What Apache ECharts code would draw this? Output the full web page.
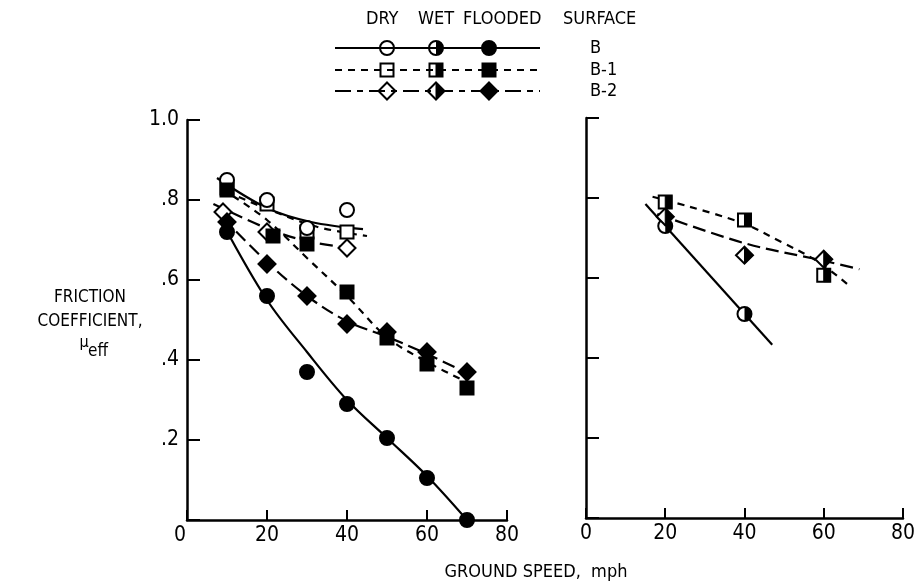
<!DOCTYPE html>
<html>
<head>
<meta charset="utf-8">
<script src="https://cdn.jsdelivr.net/npm/echarts@6/dist/echarts.min.js"></script>
<style>
  html, body { margin: 0; padding: 0; background: #fff; }
  #chart { width: 918px; height: 585px; }
</style>
</head>
<body>
<div id="chart"></div>
<script>
const FONT = 'Liberation Sans Narrow, DejaVu Sans Condensed, DejaVu Sans, sans-serif';

// Axis ticks
const xTicks = [0, 20, 40, 60, 80];
const yTickValues = [0, 0.2, 0.4, 0.6, 0.8, 1.0];
const yTickLabels = ['0', '.2', '.4', '.6', '.8', '1.0'];

// Left panel: measured points [ground speed mph, friction coefficient]
const dryB    = [[10, 0.85], [20, 0.80], [30, 0.73], [40, 0.775]];
const dryB1   = [[10, 0.83], [20, 0.79], [30, 0.72], [40, 0.72]];
const dryB2   = [[9, 0.77], [20, 0.72], [40, 0.68]];
const floodB  = [[10, 0.72], [20, 0.56], [30, 0.37], [40, 0.29], [50, 0.205], [60, 0.105], [70, 0.0]];
const floodB1 = [[10, 0.825], [21.5, 0.71], [30, 0.69], [40, 0.57], [50, 0.455], [60, 0.39], [70, 0.33]];
const floodB2 = [[10, 0.745], [20, 0.64], [30, 0.56], [40, 0.49], [50, 0.47], [60, 0.42], [70, 0.37]];

// Left panel: faired curves
const fairDryB    = [[7.5, 0.855], [20, 0.78], [31, 0.745], [44, 0.727]];
const fairDryB1   = [[10, 0.82], [20.8, 0.775], [32.5, 0.733], [45, 0.71]];
const fairDryB2   = [[6.6, 0.79], [21, 0.725], [31, 0.695], [41, 0.68]];
const fairFloodB  = [[9, 0.74], [20, 0.55], [30, 0.42], [40, 0.30], [50, 0.205], [60, 0.11], [70, 0.0]];
const fairFloodB1 = [[11.5, 0.81], [20, 0.75], [30, 0.655], [40, 0.56], [50, 0.457], [60, 0.395], [71, 0.34]];
const fairFloodB2 = [[9, 0.755], [20, 0.645], [30, 0.56], [40, 0.497], [50, 0.458], [60, 0.415], [71, 0.362]];

// Right panel: wet surface points and faired lines
const wetB  = [[20, 0.73], [40, 0.51]];
const wetB1 = [[20, 0.79], [40, 0.745], [60, 0.607]];
const wetB2 = [[20, 0.753], [40, 0.657], [60, 0.647]];
const fairWetB  = [[15, 0.785], [47, 0.433]];
const fairWetB1 = [[16.8, 0.803], [38.5, 0.741], [49.3, 0.69], [58.5, 0.641], [66.8, 0.578]];
const fairWetB2 = [[18, 0.76], [40, 0.687], [60, 0.643], [69, 0.622]];

const DASH_B1 = [7, 6];
const DASH_B2 = [13, 6];
const LINE_W = 2.2;

// Builds a plotting symbol (open, half or solid) centred on cx, cy
function marker(cx, cy, shape, fill) {
  const black = '#000', white = '#fff';
  const base = { fill: fill === 'full' ? black : white, stroke: black, lineWidth: 2 };
  const kids = [];
  if (shape === 'circle') {
    const r = 7;
    kids.push({ type: 'circle', shape: { cx, cy, r }, style: base });
    if (fill === 'half') {
      kids.push({ type: 'sector', shape: { cx, cy, r: r, r0: 0, startAngle: -Math.PI / 2, endAngle: Math.PI / 2, clockwise: true }, style: { fill: black } });
    }
  } else if (shape === 'square') {
    const h = 6.5;
    kids.push({ type: 'rect', shape: { x: cx - h, y: cy - h, width: 2 * h, height: 2 * h }, style: base });
    if (fill === 'half') {
      kids.push({ type: 'rect', shape: { x: cx, y: cy - h, width: h, height: 2 * h }, style: { fill: black, stroke: black, lineWidth: 1 } });
    }
  } else {
    const h = 8.5;
    kids.push({ type: 'polygon', shape: { points: [[cx, cy - h], [cx + h, cy], [cx, cy + h], [cx - h, cy]] }, style: base });
    if (fill === 'half') {
      kids.push({ type: 'polygon', shape: { points: [[cx, cy - h], [cx + h, cy], [cx, cy + h]] }, style: { fill: black, stroke: black, lineWidth: 1 } });
    }
  }
  return { type: 'group', children: kids };
}

function pointSeries(data, shape, fill, panel) {
  return {
    type: 'custom',
    xAxisIndex: panel, yAxisIndex: panel,
    data: data,
    encode: { x: 0, y: 1 },
    z: 5,
    silent: true,
    renderItem: function (params, api) {
      const p = api.coord([api.value(0), api.value(1)]);
      return marker(p[0], p[1], shape, fill);
    }
  };
}

function curveSeries(data, dash, panel, smooth) {
  return {
    type: 'line',
    xAxisIndex: panel, yAxisIndex: panel,
    data: data,
    smooth: smooth,
    symbol: 'none',
    z: 2,
    silent: true,
    lineStyle: { color: '#000', width: LINE_W, type: dash }
  };
}

const axisLineStyle = { show: true, lineStyle: { color: '#000', width: 2.5 } };

function xAxisFor(panel, labelZeroShift) {
  return {
    gridIndex: panel, type: 'value', min: 0, max: 80, interval: 20,
    axisLine: axisLineStyle,
    axisTick: { show: true, inside: true, length: 10, lineStyle: { color: '#000', width: 2 } },
    splitLine: { show: false },
    axisLabel: {
      color: '#000', fontFamily: FONT, fontSize: 21, margin: 5,
      formatter: function (v) {
        const i = xTicks.indexOf(v);
        const t = i >= 0 ? String(xTicks[i]) : '';
        return (labelZeroShift && v === 0) ? '{z|' + t + '}' : t;
      },
      rich: { z: { fontFamily: FONT, fontSize: 21, color: '#000', padding: [0, 14, 0, 0] } }
    }
  };
}

function yAxisFor(panel, showLabels) {
  return {
    gridIndex: panel, type: 'value', min: 0, max: 1.0, interval: 0.2,
    axisLine: axisLineStyle,
    axisTick: { show: true, inside: true, length: 13, lineStyle: { color: '#000', width: 2 } },
    splitLine: { show: false },
    axisLabel: {
      show: showLabels, color: '#000', fontFamily: FONT, fontSize: 21, margin: 8,
      formatter: function (v) {
        const i = Math.round(v * 5);
        return i === 0 ? '' : yTickLabels[i];
      }
    }
  };
}

function txt(x, y, text, size, align) {
  return {
    type: 'text', x: x, y: y, z: 10,
    style: { text: text, fontFamily: FONT, fontSize: size, fill: '#000', align: align || 'left', verticalAlign: 'middle' }
  };
}

// Legend block drawn above the panels
const legendRows = [
  { label: 'B',   shape: 'circle',  dash: null, y: 48 },
  { label: 'B-1', shape: 'square',  dash: DASH_B1, y: 70 },
  { label: 'B-2', shape: 'diamond', dash: [16, 6, 6, 6], y: 91 }
];
const legendCols = [{ fill: 'open', x: 387 }, { fill: 'half', x: 436 }, { fill: 'full', x: 489 }];
const legendHeads = [['DRY', 366], ['WET', 418], ['FLOODED', 463], ['SURFACE', 563]];

const graphics = [];
legendHeads.forEach(function (h) { graphics.push(txt(h[1], 19, h[0], 18)); });
legendRows.forEach(function (row) {
  graphics.push({ type: 'line', z: 1, shape: { x1: 335, y1: row.y, x2: 540, y2: row.y }, style: { stroke: '#000', lineWidth: LINE_W, lineDash: row.dash } });
  legendCols.forEach(function (c) {
    const m = marker(c.x, row.y, row.shape, c.fill);
    m.z = 3;
    graphics.push(m);
  });
  graphics.push(txt(590, row.y, row.label, 18));
});

// Axis titles
graphics.push(txt(90, 298, 'FRICTION', 17, 'center'));
graphics.push(txt(90, 322, 'COEFFICIENT,', 17, 'center'));
graphics.push(txt(84, 343, 'μ', 16, 'center'));
graphics.push(txt(88, 352, 'eff', 17, 'left'));
graphics.push(txt(536, 572, 'GROUND SPEED,  mph', 18, 'center'));

const option = {
  backgroundColor: '#fff',
  animation: false,
  grid: [
    { left: 187, top: 120, width: 320, height: 400 },
    { left: 586, top: 118, width: 320, height: 400 }
  ],
  xAxis: [xAxisFor(0, true), xAxisFor(1, false)],
  yAxis: [yAxisFor(0, true), yAxisFor(1, false)],
  graphic: graphics,
  series: [
    curveSeries(fairDryB, 'solid', 0, 0.35),
    curveSeries(fairDryB1, DASH_B1, 0, 0.35),
    curveSeries(fairDryB2, DASH_B2, 0, 0.35),
    curveSeries(fairFloodB, 'solid', 0, 0.35),
    curveSeries(fairFloodB1, DASH_B1, 0, 0.35),
    curveSeries(fairFloodB2, DASH_B2, 0, 0.35),
    curveSeries(fairWetB, 'solid', 1, false),
    curveSeries(fairWetB1, DASH_B1, 1, 0.35),
    curveSeries(fairWetB2, DASH_B2, 1, 0.35),
    pointSeries(dryB2, 'diamond', 'open', 0),
    pointSeries(dryB1, 'square', 'open', 0),
    pointSeries(dryB, 'circle', 'open', 0),
    pointSeries(floodB, 'circle', 'full', 0),
    pointSeries(floodB2, 'diamond', 'full', 0),
    pointSeries(floodB1, 'square', 'full', 0),
    pointSeries(wetB, 'circle', 'half', 1),
    pointSeries(wetB2, 'diamond', 'half', 1),
    pointSeries(wetB1, 'square', 'half', 1)
  ]
};

const chart = echarts.init(document.getElementById('chart'), null, { renderer: 'canvas' });
chart.setOption(option);
</script>
</body>
</html>
